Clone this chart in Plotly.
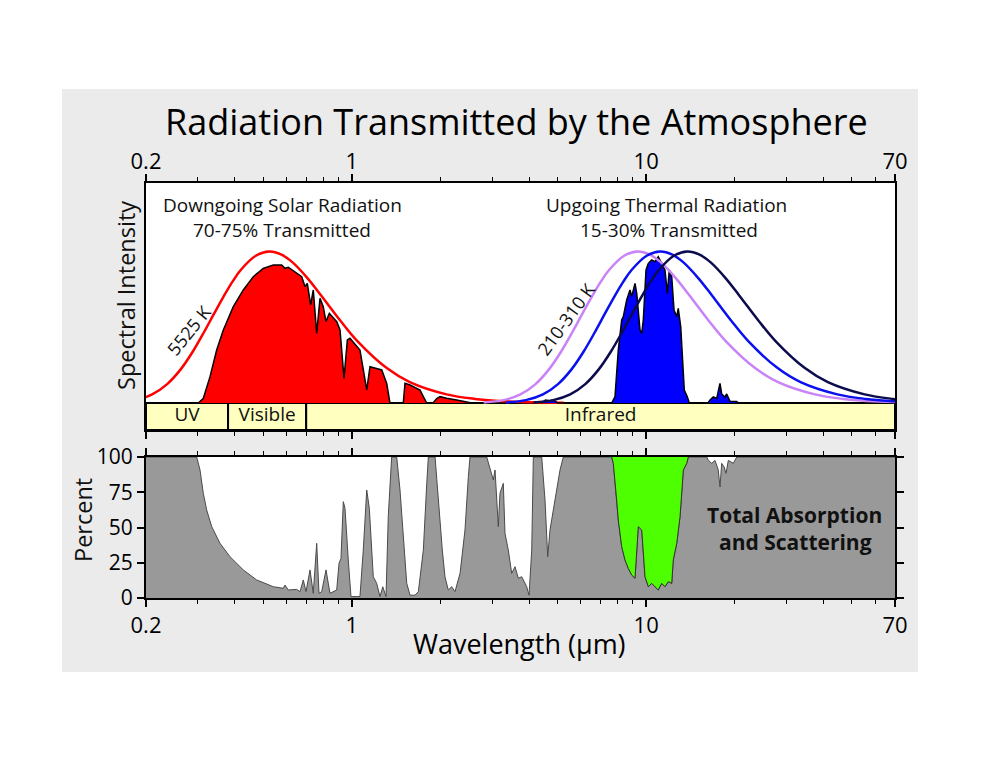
import numpy as np
import plotly.graph_objects as go

# ---------------- DATA ----------------
# Normalised blackbody profile values (peak = 1)
BB_SHAPE = [0.004, 0.019, 0.057, 0.125, 0.222, 0.340, 0.467, 0.591, 0.704, 0.801, 0.878, 0.972,
            1.000, 0.979, 0.928, 0.823, 0.710, 0.540, 0.405, 0.232, 0.138, 0.057, 0.027, 0.014,
            0.005, 0.002]
# wavelengths (um) of those points for each blackbody curve
BB_5525_WL = [0.1574, 0.1836, 0.2098, 0.2360, 0.2623, 0.2885, 0.3147, 0.3409, 0.3672, 0.3934,
              0.4196, 0.4721, 0.5245, 0.5770, 0.6294, 0.7081, 0.7868, 0.9179, 1.049, 1.311,
              1.574, 2.098, 2.623, 3.147, 4.196, 5.245]
BB_310_WL = [2.805, 3.273, 3.740, 4.208, 4.675, 5.143, 5.610, 6.078, 6.545, 7.013, 7.480, 8.415,
             9.350, 10.29, 11.22, 12.62, 14.03, 16.36, 18.70, 23.38, 28.05, 37.40, 46.75, 56.10,
             74.80, 93.50]
BB_260_WL = [3.345, 3.903, 4.460, 5.018, 5.575, 6.133, 6.690, 7.248, 7.805, 8.363, 8.920, 10.04,
             11.15, 12.27, 13.38, 15.05, 16.73, 19.51, 22.30, 27.88, 33.45, 44.60, 55.75, 66.90,
             89.20, 111.5]
BB_210_WL = [4.140, 4.830, 5.520, 6.210, 6.900, 7.590, 8.280, 8.970, 9.660, 10.35, 11.04, 12.42,
             13.80, 15.18, 16.56, 18.63, 20.70, 24.15, 27.60, 34.50, 41.40, 55.20, 69.00, 82.80,
             110.4, 138.0]

# Transmitted solar spectrum (normalised intensity)
SOLAR_WL = [0.301, 0.313, 0.330, 0.3476, 0.3662, 0.3959, 0.4281, 0.4629, 0.5005, 0.5413, 0.5779,
            0.5930, 0.6086, 0.650, 0.676, 0.694, 0.706, 0.725, 0.740, 0.760, 0.780, 0.800, 0.817,
            0.839, 0.889, 0.912, 0.941, 0.966, 0.986, 1.066, 1.124, 1.153, 1.215, 1.264, 1.314,
            1.348, 1.496, 1.516, 1.577, 1.705, 1.750, 1.797, 1.888, 1.943, 1.994, 2.101, 2.272,
            2.458, 2.555]
SOLAR_I = [0.0, 0.03, 0.174, 0.350, 0.482, 0.636, 0.746, 0.834, 0.889, 0.911, 0.911,
           0.889, 0.896, 0.856, 0.834, 0.768, 0.790, 0.647, 0.746, 0.460, 0.691, 0.636, 0.537,
           0.592, 0.537, 0.482, 0.163, 0.416, 0.427, 0.350, 0.086, 0.240, 0.229, 0.218, 0.130,
           0.0, 0.0, 0.130, 0.119, 0.086, 0.042, 0.0, 0.0, 0.030, 0.042, 0.031, 0.020,
           0.008, 0.0]

# Transmitted thermal spectrum (normalised intensity)
THERMAL_WL = [4.40, 4.55, 4.70, 4.85, 5.00, 7.636, 7.836, 8.040, 8.256, 8.361, 8.585, 8.810,
              8.928, 9.162, 9.286, 9.528, 9.656, 9.777, 9.986, 10.17, 10.44, 10.71, 10.99, 11.29,
              11.58, 11.80, 11.98, 12.21, 12.43, 12.70, 12.85, 13.10, 13.26, 13.47, 13.79, 14.01,
              16.20, 16.48, 16.90, 17.36, 17.81, 18.05, 18.52, 18.77, 19.27, 20.30, 20.60]
THERMAL_I = [0.0, 0.02, 0.015, 0.02, 0.0, 0.0, 0.042, 0.350, 0.548, 0.570, 0.680, 0.746,
             0.702, 0.790, 0.724, 0.482, 0.460, 0.548, 0.878, 0.922, 0.944, 0.933, 0.966, 0.922,
             0.878, 0.724, 0.878, 0.834, 0.614, 0.570, 0.625, 0.504, 0.350, 0.086, 0.042, 0.0,
             0.0, 0.02, 0.04, 0.03, 0.13, 0.06, 0.04, 0.06, 0.01, 0.01, 0.0]

# Total absorption and scattering (percent)
ABS_WL = [0.2, 0.2973, 0.3051, 0.3131, 0.3215, 0.3344, 0.3567, 0.3857, 0.4281, 0.4753, 0.5413,
          0.5853, 0.593, 0.6086, 0.650, 0.6669, 0.6844, 0.6990, 0.7214, 0.740, 0.760, 0.7738,
          0.7903, 0.8174, 0.8433, 0.8888, 0.9049, 0.919, 0.9359, 0.9484, 0.973, 0.9938, 1.066,
          1.094, 1.124, 1.147, 1.183, 1.215, 1.247, 1.274, 1.307, 1.330, 1.366, 1.421, 1.458,
          1.496, 1.537, 1.577, 1.640, 1.683, 1.750, 1.797, 1.820, 1.918, 1.967, 1.994, 2.030,
          2.073, 2.127, 2.185, 2.242, 2.332, 2.424, 2.488, 2.521, 2.873, 2.948, 3.025, 3.066,
          3.146, 3.187, 3.271, 3.314, 3.401, 3.493, 3.584, 3.678, 3.777, 3.928, 4.000, 4.085,
          4.137, 4.417, 4.532, 4.629, 4.713, 4.836, 4.967, 5.097, 5.230, 7.636, 7.732, 7.939,
          8.040, 8.256, 8.472, 8.694, 8.928, 9.162, 9.401, 9.656, 9.908, 10.17, 10.44, 10.71,
          10.99, 11.29, 11.58, 11.89, 12.21, 12.36, 12.70, 13.03, 13.20, 13.37, 13.73, 13.90,
          16.06, 16.26, 16.70, 17.13, 17.57, 17.81, 18.05, 18.38, 18.67, 19.01, 19.77, 20.30, 70.0]
ABS_PCT = [100, 100, 90.8, 74.2, 62.4, 50.6, 38.8, 29.3, 19.9, 12.8, 8.0,
           6.9, 9.2, 5.7, 6.1, 4.5, 12.8, 4.5, 19.9, 3.3, 38.8, 3.3,
           4.5, 19.9, 3.3, 5.7, 24.6, 28.1, 68.3, 63.6, 27.0, 1, 1,
           34, 76.6, 63.6, 15.1, 10.4, 1, 8, 1, 57.7, 100, 100, 76.6,
           46, 10.4, 2, 2, 4.5, 34, 81, 100, 100, 69.5, 57.7, 34,
           15, 5.7, 8, 4.5, 17.5, 48.2, 86, 100, 100, 90.8, 83.7, 90.8,
           50.6, 74.2, 81.3, 45.9, 34, 17.5, 22.2, 14, 15.1, 8, 2, 34,
           100, 100, 69.5, 29.3, 48.2, 62.4, 76.6, 90.8, 100, 100, 95.5, 69.5,
           55.3, 36.4, 27, 21, 16.3, 14, 50.6, 48.2, 15.1, 8, 10.4, 8,
           5.7, 10.4, 8, 11.6, 10.4, 27, 38.8, 57.7, 76.6, 90.8, 95.5, 100,
           100, 97.6, 95.5, 97.6, 90.8, 78.7, 95.5, 93.1, 88.4, 97.6, 95.5, 100, 100]
WINDOW_RANGE = [7.636, 13.90]   # atmospheric window shown in green

BAND_EDGES = [0.2, 0.38, 0.7, 70]
BAND_LABELS = ["UV", "Visible", "Infrared"]

X_TICKS = [0.2, 1, 10, 70]
X_TICK_TEXT = ["0.2", "1", "10", "70"]
X_MINOR = [0.3, 0.4, 0.5, 0.6, 0.7, 0.8, 0.9, 2, 3, 4, 5, 6, 7, 8, 9, 20, 30, 40, 50, 60]
Y2_TICKS = [0, 25, 50, 75, 100]

# ---------------- STYLE / LAYOUT ----------------
W, H = 1000, 772
FONT = "Open Sans"
Y1_RANGE = [-0.178, 1.452]
PANEL_BG = "#ebebeb"


def px(v):
    return v / W


def py(v):
    return 1 - v / H


fig = go.Figure()

# Yellow wavelength band (UV / Visible / Infrared)
for i in range(len(BAND_LABELS)):
    x0, x1 = BAND_EDGES[i], BAND_EDGES[i + 1]
    fig.add_trace(go.Scatter(
        x=[x0, x1, x1, x0, x0], y=[Y1_RANGE[0], Y1_RANGE[0], 0, 0, Y1_RANGE[0]],
        mode="lines", fill="toself", fillcolor="#ffffc0",
        line=dict(color="black", width=2), xaxis="x", yaxis="y",
        hoverinfo="skip", showlegend=False))
fig.add_trace(go.Scatter(
    x=[np.sqrt(BAND_EDGES[i] * BAND_EDGES[i + 1]) for i in range(len(BAND_LABELS))],
    y=[Y1_RANGE[0] / 2] * len(BAND_LABELS), text=BAND_LABELS, mode="text",
    textfont=dict(family=FONT, size=19, color="#111"), textposition="middle center",
    xaxis="x", yaxis="y", hoverinfo="skip", showlegend=False))

# Solar blackbody
fig.add_trace(go.Scatter(x=BB_5525_WL, y=BB_SHAPE, mode="lines",
                         line=dict(color="#ff0000", width=2.5, shape="spline"),
                         xaxis="x", yaxis="y", hoverinfo="skip", showlegend=False))
# Transmitted solar spectrum
fig.add_trace(go.Scatter(x=SOLAR_WL, y=SOLAR_I, mode="lines", fill="tozeroy",
                         fillcolor="#ff0000", line=dict(color="black", width=1.5),
                         xaxis="x", yaxis="y", hoverinfo="skip", showlegend=False))
# Transmitted thermal spectrum
fig.add_trace(go.Scatter(x=THERMAL_WL, y=THERMAL_I, mode="lines", fill="tozeroy",
                         fillcolor="#0000ff", line=dict(color="black", width=1.5),
                         xaxis="x", yaxis="y", hoverinfo="skip", showlegend=False))
# Thermal blackbodies
for wl, col in [(BB_310_WL, "#c983f7"), (BB_260_WL, "#0a10ee"), (BB_210_WL, "#0b0b4e")]:
    fig.add_trace(go.Scatter(x=wl, y=BB_SHAPE, mode="lines",
                             line=dict(color=col, width=2.5, shape="spline"),
                             xaxis="x", yaxis="y", hoverinfo="skip", showlegend=False))

# Lower panel: absorption
fig.add_trace(go.Scatter(x=ABS_WL, y=ABS_PCT, mode="lines", fill="tozeroy",
                         fillcolor="#999999", line=dict(color="#4a4a4a", width=1),
                         xaxis="x2", yaxis="y2", hoverinfo="skip", showlegend=False))
win = [(w, p) for w, p in zip(ABS_WL, ABS_PCT) if WINDOW_RANGE[0] <= w <= WINDOW_RANGE[1]]
win_wl = [w for w, _ in win]
win_p = [p for _, p in win]
fig.add_trace(go.Scatter(x=win_wl, y=[100] * len(win_wl), mode="lines",
                         line=dict(width=0, color="rgba(0,0,0,0)"),
                         xaxis="x2", yaxis="y2", hoverinfo="skip", showlegend=False))
fig.add_trace(go.Scatter(x=win_wl, y=win_p, mode="lines", fill="tonexty",
                         fillcolor="#4dff00", line=dict(width=1, color="#333333"),
                         xaxis="x2", yaxis="y2", hoverinfo="skip", showlegend=False))

axis_common = dict(type="log", range=[np.log10(0.2), np.log10(70)], domain=[px(146), px(895)],
                   tickvals=X_TICKS, ticktext=X_TICK_TEXT, ticks="outside", ticklen=7,
                   tickwidth=1.5, tickcolor="black", showline=True, linecolor="black",
                   linewidth=2, showgrid=False, zeroline=False, mirror="ticks",
                   automargin=False,
                   tickfont=dict(family=FONT, size=22, color="black"),
                   minor=dict(tickvals=X_MINOR, ticks="outside", ticklen=4, tickwidth=1.2,
                              tickcolor="black", showgrid=False))

fig.update_layout(
    width=W, height=H, margin=dict(l=0, r=0, t=0, b=0, pad=0, autoexpand=False),
    paper_bgcolor=PANEL_BG, plot_bgcolor="white", hovermode=False, showlegend=False,
    xaxis=dict(axis_common, anchor="y", side="top", ticklabelstandoff=-4),
    yaxis=dict(domain=[py(430), py(183)], range=Y1_RANGE, anchor="x", showticklabels=False,
               ticks="", showline=True, mirror=True, linecolor="black", linewidth=2,
               showgrid=False, zeroline=False, automargin=False),
    xaxis2=dict(axis_common, anchor="y2", side="bottom"),
    yaxis2=dict(domain=[py(598), py(457)], range=[0, 100], anchor="x2", tickvals=Y2_TICKS,
                ticks="outside", ticklen=7, tickwidth=1.5, tickcolor="black", showline=True,
                mirror="ticks", linecolor="black", linewidth=2, showgrid=False, zeroline=False,
                automargin=False, tickfont=dict(family=FONT, size=21, color="black")),
    shapes=[
        dict(type="rect", xref="paper", yref="paper", x0=0, x1=px(62), y0=0, y1=1,
             fillcolor="white", line=dict(width=0), layer="below"),
        dict(type="rect", xref="paper", yref="paper", x0=px(918), x1=1, y0=0, y1=1,
             fillcolor="white", line=dict(width=0), layer="below"),
        dict(type="rect", xref="paper", yref="paper", x0=0, x1=1, y0=py(89), y1=1,
             fillcolor="white", line=dict(width=0), layer="below"),
        dict(type="rect", xref="paper", yref="paper", x0=0, x1=1, y0=0, y1=py(672),
             fillcolor="white", line=dict(width=0), layer="below"),
    ],
)

ann = []


def add_text(text, x, y, size, angle=0, bold=False, color="#111"):
    ann.append(dict(text=("<b>%s</b>" % text) if bold else text, x=px(x), y=py(y),
                    xref="paper", yref="paper", xanchor="center", yanchor="middle",
                    showarrow=False, textangle=angle,
                    font=dict(family=FONT, size=size, color=color)))


add_text("Radiation Transmitted by the Atmosphere", 516, 121, 36, color="black")
add_text("Downgoing Solar Radiation", 282, 205, 19)
add_text("70-75% Transmitted", 282, 230, 19)
add_text("Upgoing Thermal Radiation", 666, 205, 19)
add_text("15-30% Transmitted", 669, 230, 19)
add_text("5525 K", 189, 330, 18, angle=-51)
add_text("210-310 K", 566, 319, 18, angle=-54)
add_text("Spectral Intensity", 126, 296, 23.5, angle=-90)
add_text("Percent", 83, 520, 23.5, angle=-90)
add_text("Wavelength (μm)", 519, 643, 27, color="black")
add_text("Total Absorption", 794, 515, 21, bold=True)
add_text("and Scattering", 795, 542, 21, bold=True)
fig.update_layout(annotations=ann)

fig.write_html("out.html")
